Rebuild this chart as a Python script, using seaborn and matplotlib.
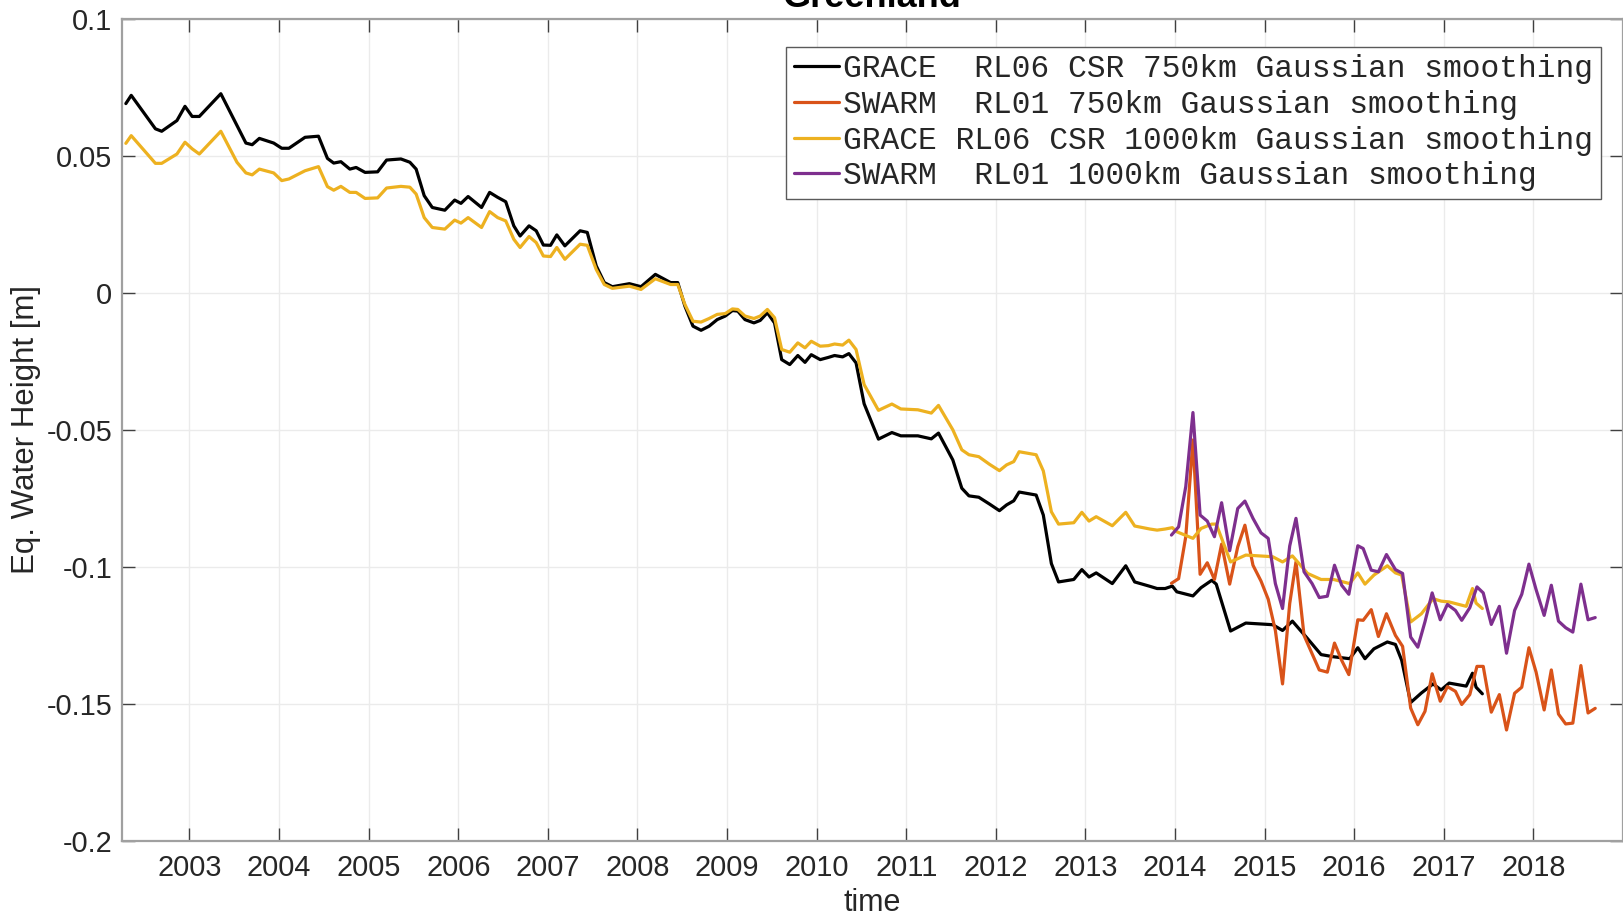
import matplotlib
matplotlib.use("Agg")
import matplotlib.pyplot as plt
import seaborn as sns
import pandas as pd

# ---------------- data ----------------
grace_time = [2002.29, 2002.35, 2002.62, 2002.69, 2002.86, 2002.95, 2003.03, 2003.11, 2003.35, 2003.53,
              2003.63, 2003.70, 2003.78, 2003.94, 2004.03, 2004.11, 2004.29, 2004.44, 2004.54, 2004.61,
              2004.69, 2004.79, 2004.86, 2004.96, 2005.10, 2005.20, 2005.36, 2005.46, 2005.53, 2005.62,
              2005.71, 2005.85, 2005.96, 2006.03, 2006.11, 2006.26, 2006.35, 2006.44, 2006.53, 2006.62,
              2006.69, 2006.79, 2006.87, 2006.95, 2007.03, 2007.10, 2007.19, 2007.36, 2007.44, 2007.54,
              2007.63, 2007.72, 2007.91, 2008.04, 2008.20, 2008.37, 2008.45, 2008.53, 2008.62, 2008.71,
              2008.80, 2008.89, 2008.98, 2009.06, 2009.12, 2009.20, 2009.30, 2009.37, 2009.45, 2009.53,
              2009.61, 2009.70, 2009.79, 2009.87, 2009.94, 2010.04, 2010.13, 2010.20, 2010.29, 2010.36,
              2010.44, 2010.53, 2010.69, 2010.84, 2010.94, 2011.13, 2011.28, 2011.36, 2011.52, 2011.62,
              2011.70, 2011.81, 2011.93, 2012.04, 2012.12, 2012.20, 2012.26, 2012.45, 2012.53, 2012.62,
              2012.70, 2012.87, 2012.96, 2013.04, 2013.12, 2013.30, 2013.45, 2013.55, 2013.72, 2013.80,
              2013.89, 2013.97, 2014.02, 2014.20, 2014.29, 2014.41, 2014.46, 2014.62, 2014.79, 2015.09,
              2015.20, 2015.31, 2015.48, 2015.63, 2015.77, 2015.95, 2016.04, 2016.12, 2016.22, 2016.37,
              2016.46, 2016.53, 2016.63, 2016.75, 2016.88, 2016.97, 2017.06, 2017.25, 2017.32, 2017.36,
              2017.43]

grace_750 = [0.0690, 0.0720, 0.0598, 0.0589, 0.0628, 0.0680, 0.0643, 0.0643, 0.0726, 0.0610,
             0.0546, 0.0540, 0.0563, 0.0546, 0.0527, 0.0527, 0.0567, 0.0571, 0.0490, 0.0473,
             0.0478, 0.0451, 0.0457, 0.0439, 0.0441, 0.0484, 0.0488, 0.0476, 0.0451, 0.0354,
             0.0311, 0.0301, 0.0338, 0.0326, 0.0351, 0.0311, 0.0366, 0.0348, 0.0332, 0.0244,
             0.0207, 0.0244, 0.0226, 0.0174, 0.0173, 0.0211, 0.0171, 0.0226, 0.0220, 0.0098,
             0.0037, 0.0022, 0.0033, 0.0022, 0.0067, 0.0037, 0.0037, -0.0049, -0.0122, -0.0137,
             -0.0122, -0.0098, -0.0085, -0.0065, -0.0067, -0.0098, -0.0110, -0.0101, -0.0073, -0.0110,
             -0.0244, -0.0262, -0.0229, -0.0254, -0.0226, -0.0244, -0.0236, -0.0229, -0.0234, -0.0222,
             -0.0256, -0.0405, -0.0534, -0.0510, -0.0522, -0.0522, -0.0533, -0.0512, -0.0610, -0.0713,
             -0.0741, -0.0746, -0.0771, -0.0795, -0.0774, -0.0759, -0.0727, -0.0738, -0.0811, -0.0988,
             -0.1055, -0.1046, -0.1010, -0.1037, -0.1022, -0.1061, -0.0996, -0.1055, -0.1071, -0.1079,
             -0.1079, -0.1070, -0.1091, -0.1106, -0.1076, -0.1049, -0.1063, -0.1234, -0.1205, -0.1211,
             -0.1232, -0.1198, -0.1262, -0.1320, -0.1328, -0.1335, -0.1295, -0.1335, -0.1299, -0.1274,
             -0.1283, -0.1341, -0.1495, -0.1460, -0.1427, -0.1449, -0.1424, -0.1435, -0.1388, -0.1439,
             -0.1463]

grace_1000 = [0.0545, 0.0573, 0.0472, 0.0472, 0.0506, 0.0549, 0.0525, 0.0506, 0.0589, 0.0476,
              0.0437, 0.0430, 0.0451, 0.0437, 0.0409, 0.0415, 0.0445, 0.0460, 0.0387, 0.0374,
              0.0388, 0.0366, 0.0366, 0.0344, 0.0346, 0.0382, 0.0388, 0.0385, 0.0360, 0.0274,
              0.0238, 0.0232, 0.0265, 0.0254, 0.0274, 0.0238, 0.0296, 0.0274, 0.0262, 0.0195,
              0.0165, 0.0205, 0.0183, 0.0134, 0.0132, 0.0165, 0.0122, 0.0177, 0.0173, 0.0085,
              0.0030, 0.0016, 0.0024, 0.0012, 0.0051, 0.0030, 0.0030, -0.0043, -0.0104, -0.0107,
              -0.0094, -0.0079, -0.0076, -0.0059, -0.0061, -0.0085, -0.0094, -0.0085, -0.0061, -0.0091,
              -0.0207, -0.0217, -0.0183, -0.0201, -0.0177, -0.0195, -0.0193, -0.0187, -0.0191, -0.0173,
              -0.0207, -0.0335, -0.0429, -0.0406, -0.0424, -0.0427, -0.0439, -0.0411, -0.0500, -0.0573,
              -0.0591, -0.0598, -0.0626, -0.0649, -0.0628, -0.0616, -0.0580, -0.0591, -0.0650, -0.0799,
              -0.0844, -0.0839, -0.0801, -0.0833, -0.0817, -0.0850, -0.0801, -0.0851, -0.0862, -0.0866,
              -0.0862, -0.0857, -0.0872, -0.0896, -0.0860, -0.0844, -0.0844, -0.0982, -0.0957, -0.0963,
              -0.0982, -0.0960, -0.1024, -0.1046, -0.1046, -0.1061, -0.1022, -0.1063, -0.1030, -0.0996,
              -0.1022, -0.1030, -0.1201, -0.1171, -0.1116, -0.1125, -0.1128, -0.1144, -0.1079, -0.1132,
              -0.1152]

swarm_time = [2013.96, 2014.04, 2014.12, 2014.20, 2014.28, 2014.36, 2014.44, 2014.52, 2014.61, 2014.70,
              2014.78, 2014.87, 2014.96, 2015.04, 2015.12, 2015.20, 2015.28, 2015.35, 2015.44, 2015.53,
              2015.61, 2015.70, 2015.78, 2015.86, 2015.94, 2016.04, 2016.10, 2016.19, 2016.27, 2016.36,
              2016.46, 2016.54, 2016.63, 2016.71, 2016.79, 2016.87, 2016.96, 2017.04, 2017.13, 2017.20,
              2017.29, 2017.37, 2017.44, 2017.53, 2017.62, 2017.70, 2017.79, 2017.87, 2017.95, 2018.03,
              2018.12, 2018.20, 2018.28, 2018.36, 2018.44, 2018.53, 2018.61, 2018.69]

swarm_750 = [-0.1060, -0.1043, -0.0890, -0.0537, -0.1027, -0.0985, -0.1046, -0.0917, -0.1063, -0.0927,
             -0.0848, -0.0994, -0.1052, -0.1118, -0.1232, -0.1427, -0.1134, -0.0982, -0.1250, -0.1317,
             -0.1376, -0.1384, -0.1278, -0.1341, -0.1393, -0.1193, -0.1195, -0.1156, -0.1254, -0.1171,
             -0.1250, -0.1290, -0.1515, -0.1576, -0.1527, -0.1390, -0.1490, -0.1437, -0.1454, -0.1502,
             -0.1466, -0.1363, -0.1363, -0.1530, -0.1466, -0.1595, -0.1461, -0.1439, -0.1295, -0.1384,
             -0.1522, -0.1376, -0.1537, -0.1573, -0.1570, -0.1360, -0.1533, -0.1516]

swarm_1000 = [-0.0884, -0.0854, -0.0707, -0.0437, -0.0811, -0.0833, -0.0890, -0.0766, -0.0941, -0.0787,
              -0.0760, -0.0823, -0.0876, -0.0896, -0.1061, -0.1152, -0.0924, -0.0823, -0.1018, -0.1061,
              -0.1112, -0.1107, -0.0994, -0.1067, -0.1100, -0.0923, -0.0933, -0.1012, -0.1018, -0.0955,
              -0.1010, -0.1024, -0.1256, -0.1293, -0.1200, -0.1095, -0.1193, -0.1137, -0.1159, -0.1195,
              -0.1149, -0.1073, -0.1095, -0.1210, -0.1144, -0.1315, -0.1159, -0.1100, -0.0990, -0.1083,
              -0.1177, -0.1067, -0.1198, -0.1222, -0.1238, -0.1063, -0.1193, -0.1185]

series_labels = ["GRACE  RL06 CSR 750km Gaussian smoothing",
                 "SWARM  RL01 750km Gaussian smoothing",
                 "GRACE RL06 CSR 1000km Gaussian smoothing",
                 "SWARM  RL01 1000km Gaussian smoothing"]
series_colors = ["#000000", "#D95319", "#EDB120", "#7E2F8E"]

year_ticks = list(range(2003, 2019))
year_labels = [str(y) for y in year_ticks]
y_ticks = [0.1, 0.05, 0.0, -0.05, -0.1, -0.15, -0.2]
y_labels = ["0.1", "0.05", "0", "-0.05", "-0.1", "-0.15", "-0.2"]

# ---------------- figure ----------------
sns.set_theme(style="white")
plt.rcParams["font.family"] = ["Liberation Sans", "DejaVu Sans"]
plt.rcParams["axes.unicode_minus"] = False

W, H = 1624, 919
fig = plt.figure(figsize=(W / 100, H / 100), dpi=100)
ax = fig.add_axes([122 / W, 1 - 841 / H, (1623 - 122) / W, (841 - 18.6) / H])

frames = [
    pd.DataFrame({"t": grace_time, "v": grace_750, "s": series_labels[0]}),
    pd.DataFrame({"t": swarm_time, "v": swarm_750, "s": series_labels[1]}),
    pd.DataFrame({"t": grace_time, "v": grace_1000, "s": series_labels[2]}),
    pd.DataFrame({"t": swarm_time, "v": swarm_1000, "s": series_labels[3]}),
]
df = pd.concat(frames, ignore_index=True)

sns.lineplot(data=df, x="t", y="v", hue="s", hue_order=series_labels,
             palette=series_colors, sort=False, estimator=None, linewidth=2.3,
             ax=ax, legend=True)

ax.set_xlim(2002.247, 2019.0)
ax.set_ylim(-0.2, 0.1)
ax.set_xticks(year_ticks)
ax.set_xticklabels(year_labels)
ax.set_yticks(y_ticks)
ax.set_yticklabels(y_labels)

ax.grid(True, color="#ebebeb", linewidth=1.0)
ax.set_axisbelow(True)
for side, sp in ax.spines.items():
    sp.set_color("#a0a0a0")
    sp.set_linewidth(1.6)
    sp.set_visible(True)

ax.tick_params(axis="both", which="major", direction="in", length=9.5, width=1.0,
               color="#404040", labelsize=20.8, labelcolor="#262626",
               top=True, right=True, bottom=True, left=True, pad=7)
ax.tick_params(axis="x", pad=9)

ax.set_xlabel("time", fontsize=22, color="#262626", labelpad=5)
ax.set_ylabel("Eq. Water Height [m]", fontsize=22.5, color="#262626", labelpad=4)

leg = ax.legend(loc="upper left", bbox_to_anchor=(786 / W, 1 - 46.6 / H),
                bbox_transform=fig.transFigure, borderaxespad=0,
                prop={"family": "Liberation Mono", "size": 22.5},
                handlelength=1.45, handletextpad=0.12, labelspacing=0.18,
                borderpad=0.25, frameon=True, fancybox=False, framealpha=1,
                edgecolor="#5a5a5a")
leg.get_frame().set_linewidth(1.0)
for txt in leg.get_texts():
    txt.set_color("#262626")
for line in leg.get_lines():
    line.set_linewidth(2.3)

fig.text(872 / W, 1 - 7 / H, "Greenland", ha="center", va="baseline",
         fontsize=26, fontweight="bold", color="#000000")

fig.savefig("out.png", dpi=100)
